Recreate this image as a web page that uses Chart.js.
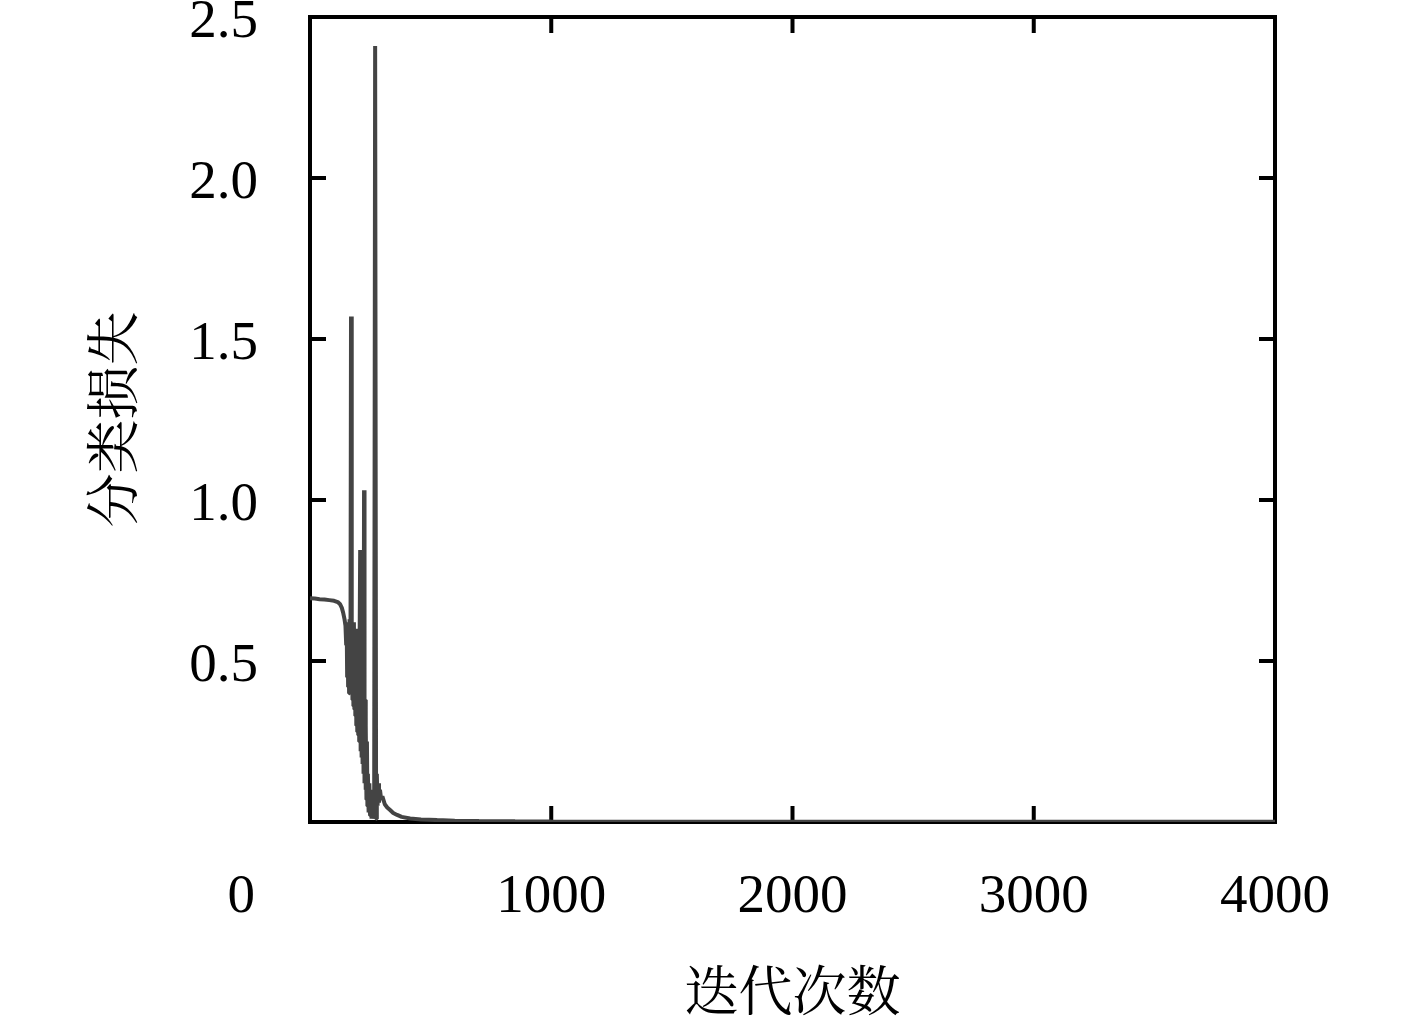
<!DOCTYPE html>
<html>
<head>
<meta charset="utf-8">
<script src="https://cdn.jsdelivr.net/npm/chart.js@4.4.1/dist/chart.umd.min.js"></script>
<style>
  html, body { margin: 0; padding: 0; background: #ffffff; }
  #wrap { width: 1417px; height: 1023px; }
</style>
</head>
<body>
<div id="wrap"><canvas id="c" width="1417" height="1023"></canvas></div>
<script>
// ---- data ----
const iterations = [
  0, 20, 40, 60, 80, 100, 115, 125, 132, 138, 143, 147,
  150, 152, 154, 156, 158, 160, 162, 164, 166, 168, 170, 172, 174, 176, 178,
  180, 182, 184, 186, 188, 190, 192, 194, 196, 198, 200, 202, 204, 206, 208,
  210, 212, 214, 216, 218, 220, 222, 224, 226, 228, 230, 232, 234, 236, 238,
  240, 243, 246, 249, 252, 255, 258, 262, 266, 270, 274, 277, 280, 283, 286,
  290, 295, 300, 310, 320, 332, 345, 361, 380, 415, 460, 527, 600, 700, 850,
  1000, 1500, 2000, 3000, 4000
];
const lossValues = [
  0.695, 0.694, 0.692, 0.691, 0.689, 0.687, 0.683, 0.676, 0.665, 0.648, 0.63, 0.61,
  0.55, 0.62, 0.45, 0.61, 0.42, 0.60, 0.40, 0.63, 0.41, 0.62, 1.57, 0.40, 0.60, 0.38, 0.59,
  0.36, 0.62, 0.35, 0.58, 0.33, 0.60, 0.30, 0.57, 0.28, 0.55, 0.27, 0.56, 0.25, 0.60, 0.845,
  0.22, 0.50, 0.20, 0.48, 0.18, 0.45, 0.15, 1.03, 0.12, 0.38, 0.10, 0.30, 0.07, 0.25, 0.05,
  0.15, 0.03, 0.12, 0.02, 0.10, 0.01, 0.08, 0.01, 0.05, 2.41, 0.01, 0.15, 0.05, 0.12, 0.06,
  0.10, 0.07, 0.08, 0.055, 0.045, 0.037, 0.028, 0.022, 0.016, 0.011, 0.008, 0.006, 0.004, 0.003, 0.002,
  0.0015, 0.001, 0.0008, 0.0006, 0.0005
];
const xTickValues = [0, 1000, 2000, 3000, 4000];
const yTickValues = [0.5, 1.0, 1.5, 2.0, 2.5];
const xTitle = '迭代次数';
const yTitle = '分类损失';

const points = iterations.map((x, i) => ({ x: x, y: lossValues[i] }));

const NUM_FONT = "'Liberation Serif', 'DejaVu Serif', serif";
const CJK_FONT = "'Noto Serif CJK SC', 'Noto Sans CJK SC', sans-serif";

const framePlugin = {
  id: 'frame',
  beforeDatasetsDraw(chart) {
    const ctx = chart.ctx;
    const a = chart.chartArea;
    const xs = chart.scales.x, ys = chart.scales.y;
    ctx.save();
    ctx.strokeStyle = '#000000';
    ctx.lineWidth = 4;
    ctx.strokeRect(a.left, a.top, a.right - a.left, a.bottom - a.top);
    const L = 16;
    ctx.beginPath();
    xTickValues.forEach(v => {
      const px = xs.getPixelForValue(v);
      if (px <= a.left + 1 || px >= a.right - 1) return;
      ctx.moveTo(px, a.bottom); ctx.lineTo(px, a.bottom - L);
      ctx.moveTo(px, a.top); ctx.lineTo(px, a.top + L);
    });
    yTickValues.forEach(v => {
      const py = ys.getPixelForValue(v);
      if (py <= a.top + 1 || py >= a.bottom - 1) return;
      ctx.moveTo(a.left, py); ctx.lineTo(a.left + L, py);
      ctx.moveTo(a.right, py); ctx.lineTo(a.right - L, py);
    });
    ctx.stroke();
    ctx.restore();
  }
};

new Chart(document.getElementById('c'), {
  type: 'line',
  data: {
    datasets: [{
      data: points,
      borderColor: '#444444',
      borderWidth: 4,
      borderJoinStyle: 'bevel',
      pointRadius: 0,
      tension: 0,
      fill: false
    }]
  },
  options: {
    responsive: false,
    animation: false,
    events: [],
    layout: { padding: { top: 17, right: 142, left: 0, bottom: 0 } },
    plugins: { legend: { display: false }, tooltip: { enabled: false } },
    scales: {
      x: {
        type: 'linear',
        min: 0, max: 4000,
        afterBuildTicks(scale) { scale.ticks = xTickValues.map(v => ({ value: v })); },
        afterFit(scale) { scale.height = 201; scale.paddingLeft = 0; scale.paddingRight = 0; },
        grid: { display: false, drawTicks: false },
        border: { display: false },
        ticks: {
          autoSkip: false,
          maxRotation: 0,
          padding: 43,
          color: '#000000',
          font: { family: NUM_FONT, size: 55 },
          callback: (v) => v === 0 ? '0          ' : String(v)
        },
        title: {
          display: true,
          text: xTitle,
          color: '#000000',
          font: { family: CJK_FONT, size: 54, lineHeight: 1.2 },
          padding: { top: 0, bottom: 0 }
        }
      },
      y: {
        type: 'linear',
        min: 0, max: 2.5,
        afterBuildTicks(scale) { scale.ticks = yTickValues.map(v => ({ value: v })); },
        afterFit(scale) { scale.width = 310; scale.paddingTop = 0; scale.paddingBottom = 0; },
        grid: { display: false, drawTicks: false },
        border: { display: false },
        ticks: {
          padding: 52,
          labelOffset: 6,
          color: '#000000',
          font: { family: NUM_FONT, size: 55 },
          callback: (v) => v.toFixed(1)
        },
        title: {
          display: true,
          text: yTitle,
          color: '#000000',
          font: { family: CJK_FONT, size: 54, lineHeight: 1.2 },
          padding: { top: 80, bottom: 0 }
        }
      }
    }
  },
  plugins: [framePlugin]
});
</script>
</body>
</html>
